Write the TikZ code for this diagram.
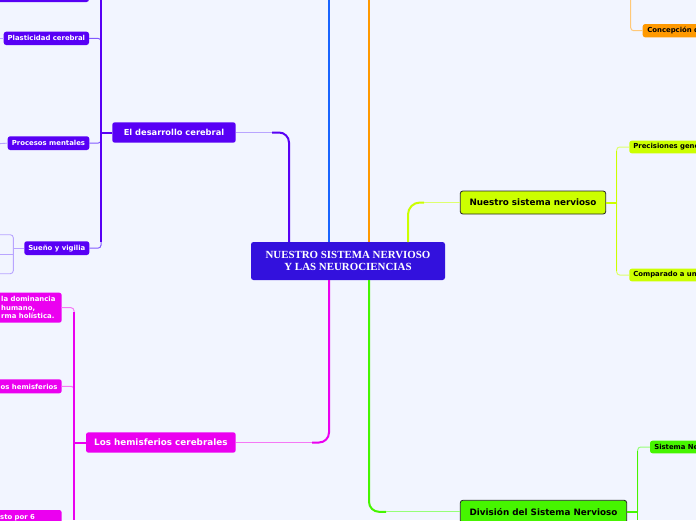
\documentclass[tikz,border=0pt]{standalone}
\usepackage{fontspec}
\setmainfont{DejaVu Sans}
\newfontfamily\cenfont{Liberation Serif}
\definecolor{bg}{RGB}{242,245,255}
\definecolor{central}{RGB}{51,17,221}
\definecolor{purp}{RGB}{88,0,245}
\definecolor{purpM}{RGB}{130,90,255}
\definecolor{purpL}{RGB}{185,165,255}
\definecolor{blu}{RGB}{25,100,255}
\definecolor{ora}{RGB}{255,153,0}
\definecolor{oraL}{RGB}{255,200,120}
\definecolor{yel}{RGB}{204,255,0}
\definecolor{yelM}{RGB}{222,255,110}
\definecolor{mag}{RGB}{235,0,240}
\definecolor{magM}{RGB}{245,120,245}
\definecolor{grn}{RGB}{70,245,0}
\definecolor{grnM}{RGB}{150,255,120}
\begin{document}
\begin{tikzpicture}[x=1pt,y=-1pt,
  box/.style={rounded corners=2.5pt, inner sep=0pt, outer sep=0pt},
  small/.style={font=\bfseries\fontsize{6.9}{8.7}\selectfont},
  big/.style={font=\bfseries\fontsize{8.8}{10.5}\selectfont},
  trunk/.style={line width=2pt},
  sub/.style={line width=1.2pt},
  twig/.style={line width=1pt, rounded corners=3pt},
  bord/.style={draw=black!85, line width=0.8pt}]
\fill[bg] (0,0) rectangle (696,520);
\useasboundingbox (0,0) rectangle (696,520);

% coordinates on the central node
\coordinate (cP) at (289,242);
\coordinate (cB) at (329,242);
\coordinate (cBt) at (329,0);
\coordinate (cO) at (369,242);
\coordinate (cOt) at (369,0);
\coordinate (cY) at (408,242);
\coordinate (cM) at (329,280);
\coordinate (cG) at (369,280);
\coordinate (pBend) at (272,132.5);
\coordinate (yBend) at (424,202.5);
\coordinate (mBend) at (312,442.5);
\coordinate (gBend) at (386,511.8);

% nodes
\node[box, fill=central, text=white, minimum width=194pt, minimum height=38pt, align=center,
  font=\cenfont\bfseries\fontsize{10.9}{11.6}\selectfont] (cen) at (348,261)
  {NUESTRO SISTEMA NERVIOSO\\Y LAS NEUROCIENCIAS};

\node[box, fill=purp, text=white, minimum width=123.4pt, minimum height=20.4pt,
  font=\bfseries\fontsize{8.3}{10}\selectfont] (des) at (174,132.5) {El desarrollo cerebral};
\node[box, fill=purp, minimum width=120pt, minimum height=20pt, anchor=south east] (topl) at (89,2) {};
\node[box, fill=purp, text=white, small, minimum width=85.3pt, minimum height=13.3pt] (plas) at (46.35,38.35) {Plasticidad cerebral};
\node[box, fill=purp, text=white, small, minimum width=81.6pt, minimum height=13.7pt] (proc) at (48.5,143.15) {Procesos mentales};
\node[box, fill=purp, text=white, small, minimum width=65pt, minimum height=13.7pt] (sue) at (56.8,248.15) {Sueño y vigilia};

\node[box, fill=mag, text=white, big, minimum width=149.7pt, minimum height=20.4pt] (hem) at (160.85,442.5) {Los hemisferios cerebrales};
\node[box, fill=mag, minimum width=100pt, minimum height=30pt, anchor=east] (hemA) at (61.7,307.7) {};
\node[text=white, small, align=left, anchor=west, inner sep=0pt] (hemAt) at (1,307.7) {la dominancia\\humano,\\rma holística.};
\node[box, fill=mag, minimum width=100pt, minimum height=14pt, anchor=east] (hemB) at (61.7,386.3) {};
\node[text=white, small, anchor=east, inner sep=0pt] (hemBt) at (57.7,386.5) {os hemisferios};
\node[box, fill=mag, minimum width=100pt, minimum height=30pt, anchor=north east] (hemC) at (61.7,510) {};
\node[text=white, small, anchor=base west, inner sep=0pt] (hemCt) at (0,519.5) {sto por 6};

\node[box, fill=yel, bord, big, minimum width=145.4pt, minimum height=23pt] (nsn) at (533,202.5) {Nuestro sistema nervioso};
\node[box, fill=yel, small, anchor=west, minimum height=12.6pt, inner xsep=4pt, text width=76pt, align=left] (prec) at (629.3,147) {Precisiones gene};
\node[box, fill=yel, small, anchor=west, minimum height=12.6pt, inner xsep=4pt, text width=76pt, align=left] (comp) at (629.3,275) {Comparado a un};

\node[box, fill=ora, small, anchor=west, minimum height=13.3pt, inner xsep=4.6pt, text width=62pt, align=left] (conc) at (642.7,30.7) {Concepción d};

\node[box, fill=grn, bord, big, minimum width=166.4pt, minimum height=23pt] (div) at (543.5,511.8) {División del Sistema Nervioso};
\node[box, fill=grn, small, anchor=west, minimum height=12.6pt, inner xsep=4.3pt, text width=60pt, align=left] (sne) at (650,447) {Sistema Ne};

% main branches
\draw[purp, trunk, rounded corners=10pt] (cP) |- (pBend);
\draw[purpL, sub] (pBend) -- (des.east);
\draw[blu, trunk] (cB) -- (cBt);
\draw[ora, trunk] (cO) -- (cOt);
\draw[yel, trunk, rounded corners=12pt] (cY) |- (yBend);
\draw[yelM, sub] (yBend) -- (nsn.west);
\draw[mag, trunk, rounded corners=10pt] (cM) |- (mBend);
\draw[magM, sub] (mBend) -- (hem.east);
\draw[grn, trunk, rounded corners=10pt] (cG) |- (gBend);
\draw[grnM, sub] (gBend) -- (div.west);

% purple sub-branches
\coordinate (pj) at (101,132.5);
\coordinate (pTop) at (101,0);
\coordinate (pLow) at (101,242);
\draw[purpM, twig] (pj) |- (plas.east);
\draw[purpM, twig] (pj) |- (proc.east);
\draw[purpM, twig] (pj) |- (sue.east);
\draw[purp, sub] (pTop) -- (pLow);
\draw[purp, trunk] (des.west) -- (pj);
\coordinate (pl0) at (0,38.35);
\coordinate (pr0) at (0,143.6);
\draw[purpL, line width=0.9pt] (plas.west) -- (pl0);
\draw[purpL, line width=0.9pt] (proc.west) -- (pr0);
\coordinate (sj) at (13.3,248.15);
\coordinate (s1) at (0,234.7);
\coordinate (s2a) at (13.3,254.3);
\coordinate (s2) at (0,254.3);
\coordinate (s3) at (0,273.7);
\draw[purpL, line width=0.9pt] (sue.west) -- (sj);
\draw[purpL, line width=0.9pt, rounded corners=3pt] (sj) |- (s1);
\draw[purpL, line width=0.9pt, rounded corners=3pt] (sj) |- (s3);
\draw[purpL, line width=0.9pt] (s2a) -- (s2);

% magenta sub-branches
\coordinate (mj) at (74,442.5);
\coordinate (mTop) at (74,312);
\coordinate (mBot) at (74,520);
\draw[magM, twig] (mj) |- (hemA.east);
\draw[magM, twig] (mj) |- (hemB.east);
\draw[mag, sub] (mTop) -- (mBot);
\draw[mag, trunk] (hem.west) -- (mj);

% yellow sub-branches
\coordinate (yj) at (616.7,202.5);
\coordinate (yTop) at (616.7,151);
\coordinate (yBot) at (616.7,271);
\draw[yelM, twig] (yj) |- (prec.west);
\draw[yelM, twig] (yj) |- (comp.west);
\draw[yel, sub] (yTop) -- (yBot);
\draw[yel, trunk] (nsn.east) -- (yj);

% orange sub-branch
\coordinate (oj) at (630.7,0);
\draw[oraL, twig] (oj) |- (conc.west);

% green sub-branches
\coordinate (gj) at (637.7,511.8);
\coordinate (gTop) at (637.7,451);
\coordinate (gBot) at (637.7,520);
\draw[grnM, twig] (gj) |- (sne.west);
\draw[grn, sub] (gTop) -- (gBot);
\draw[grn, trunk] (div.east) -- (gj);
\end{tikzpicture}
\end{document}
